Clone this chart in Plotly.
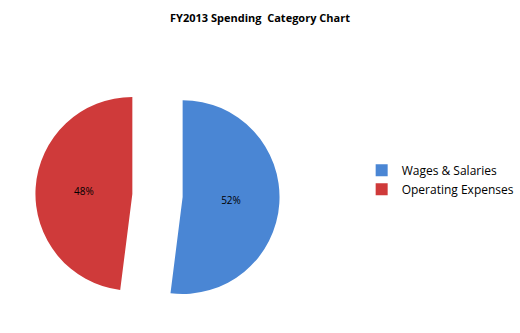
import plotly.graph_objects as go

categories = ["Wages & Salaries", "Operating Expenses"]
values = [52, 48]
colors = ["#4A86D4", "#CF3A3A"]

fig = go.Figure(go.Pie(
    labels=categories,
    values=values,
    sort=False,
    direction="clockwise",
    rotation=0,
    pull=[0.26, 0.26],
    marker=dict(colors=colors, line=dict(width=0)),
    textinfo="percent",
    textposition="inside",
    insidetextorientation="horizontal",
    textfont=dict(family="Open Sans", size=10, color="#000000"),
    domain=dict(x=[0.069, 0.545], y=[0.044, 0.782]),
    hoverinfo="label+percent",
))

fig.update_layout(
    width=520, height=333,
    margin=dict(l=0, r=0, t=0, b=0),
    paper_bgcolor="white",
    plot_bgcolor="white",
    title=dict(text="<b>FY2013 Spending  Category Chart</b>", x=0.5, xanchor="center",
               y=0.945, yanchor="middle",
               font=dict(family="Open Sans", size=11, color="#000000")),
    legend=dict(x=0.705, y=0.46, xanchor="left", yanchor="middle",
                font=dict(family="Open Sans", size=12, color="#000000"),
                itemwidth=30, bgcolor="rgba(0,0,0,0)"),
    showlegend=True,
)

fig.write_html("out.html")
